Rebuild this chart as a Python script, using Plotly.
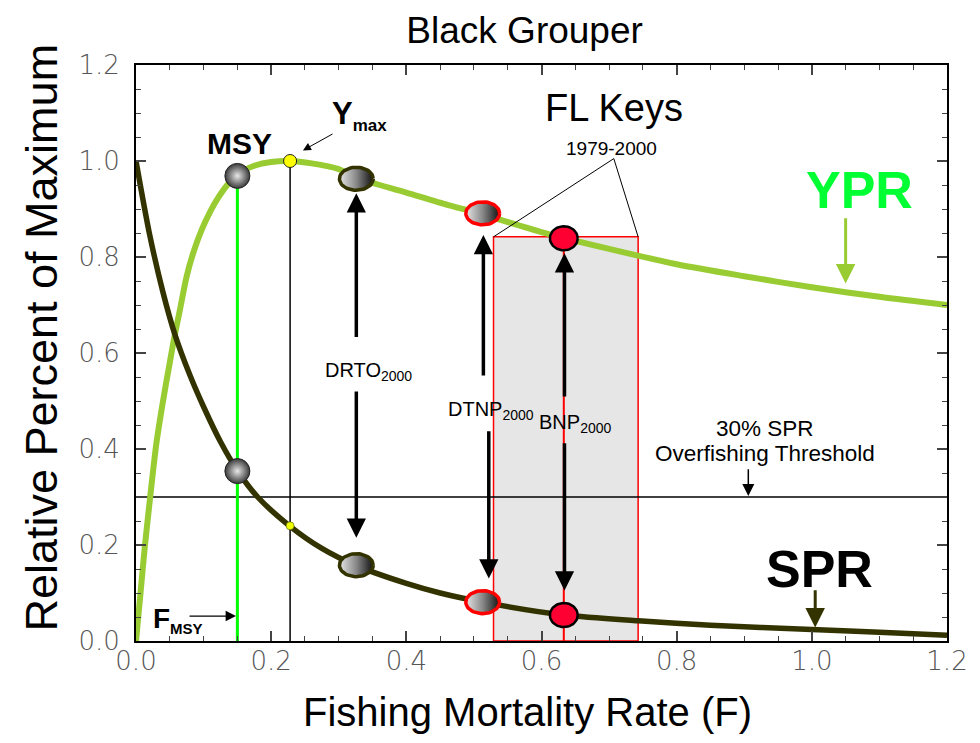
import numpy as np
import plotly.graph_objects as go

# ---------------- data ----------------
F_YPR = [0.0, 0.007, 0.013, 0.021, 0.03, 0.04, 0.05, 0.057, 0.065, 0.075, 0.085, 0.097,
         0.11, 0.12, 0.135, 0.15, 0.175, 0.2, 0.228, 0.26, 0.3, 0.326, 0.4, 0.462, 0.5,
         0.6, 0.7, 0.8, 0.9, 1.0, 1.1, 1.2]
YPR = [0.0, 0.105, 0.196, 0.30, 0.41, 0.50, 0.58, 0.635, 0.69, 0.76, 0.81, 0.856,
       0.895, 0.92, 0.95, 0.972, 0.99, 0.998, 1.0, 0.995, 0.983, 0.965, 0.934, 0.908, 0.894,
       0.852, 0.817, 0.785, 0.76, 0.737, 0.717, 0.70]

F_SPR = [0.0, 0.02, 0.04, 0.057, 0.08, 0.1, 0.125, 0.15, 0.18, 0.228, 0.275, 0.326,
         0.4, 0.45, 0.513, 0.634, 0.743, 0.85, 1.0, 1.1, 1.2]
SPR = [1.0, 0.848, 0.726, 0.641, 0.553, 0.488, 0.415, 0.355, 0.30, 0.239, 0.193, 0.157,
       0.12, 0.10, 0.081, 0.054, 0.042, 0.033, 0.024, 0.018, 0.012]

MSY_F, MSY_YPR, MSY_SPR = 0.15, 0.969, 0.354
YMAX_F, YMAX_YPR, YMAX_SPR = 0.228, 1.0, 0.24

SITES = ["DRTO", "DTNP", "BNP"]
SITE_F = [0.326, 0.513, 0.633]
SITE_YPR = [0.963, 0.891, 0.839]
SITE_SPR = [0.158, 0.081, 0.054]

KEYS_F = [0.529, 0.743]          # FL Keys 1979-2000 range
KEYS_TOP = 0.842
SPR_THRESHOLD = 0.3

X_TICKS = [0.0, 0.2, 0.4, 0.6, 0.8, 1.0, 1.2]
Y_TICKS = [0.0, 0.2, 0.4, 0.6, 0.8, 1.0, 1.2]
TICK_TEXT = ["0.0", "0.2", "0.4", "0.6", "0.8", "1.0", "1.2"]

# ---------------- layout constants ----------------
W, H = 980, 743
ML, MR, MT, MB = 136, 28, 65, 102
PX_X = (W - ML - MR) / 1.2   # pixels per unit on x
PX_Y = (H - MT - MB) / 1.2   # pixels per unit on y

FONT = "Liberation Sans, Arial, sans-serif"
YPR_COLOR = "#99cc33"
SPR_COLOR = "#333300"


def ellipse(cx, cy, wpx, hpx, n=60):
    t = np.linspace(0, 2 * np.pi, n)
    return (cx + (wpx / 2) / PX_X * np.cos(t)).tolist(), (cy + (hpx / 2) / PX_Y * np.sin(t)).tolist()


fig = go.Figure()

# curves
fig.add_trace(go.Scatter(x=F_YPR, y=YPR, mode="lines", line=dict(color=YPR_COLOR, width=6, shape="spline", smoothing=0.8),
                         hoverinfo="skip", showlegend=False))
fig.add_trace(go.Scatter(x=F_SPR, y=SPR, mode="lines", line=dict(color=SPR_COLOR, width=5.5, shape="spline", smoothing=0.8),
                         hoverinfo="skip", showlegend=False))

# MSY markers
fig.add_trace(go.Scatter(x=[MSY_F, MSY_F], y=[MSY_YPR, MSY_SPR], mode="markers",
                         marker=dict(size=25, color="#3a3a3a", line=dict(color="#222", width=1),
                                     gradient=dict(type="radial", color="#e8e8e8")),
                         hoverinfo="skip", showlegend=False))
# Ymax markers
fig.add_trace(go.Scatter(x=[YMAX_F], y=[YMAX_YPR], mode="markers",
                         marker=dict(size=13, color="#ffff00", line=dict(color="#222", width=1)),
                         hoverinfo="skip", showlegend=False))
fig.add_trace(go.Scatter(x=[YMAX_F], y=[YMAX_SPR], mode="markers",
                         marker=dict(size=8, color="#eeff00", line=dict(color="#333300", width=0.5)),
                         hoverinfo="skip", showlegend=False))

# site ellipses
grad = dict(type="horizontal", colorscale=[[0, "#e6e6e6"], [0.5, "#888888"], [1, "#111111"]])
# DRTO (olive outline, gradient)
for yv in [SITE_YPR[0], SITE_SPR[0]]:
    ex, ey = ellipse(SITE_F[0], yv, 34, 23)
    fig.add_trace(go.Scatter(x=ex, y=ey, mode="lines", fill="toself", fillgradient=grad,
                             line=dict(color=SPR_COLOR, width=3.5), hoverinfo="skip", showlegend=False))
# DTNP (red outline, gradient)
for yv in [SITE_YPR[1], SITE_SPR[1]]:
    ex, ey = ellipse(SITE_F[1], yv, 34, 23)
    fig.add_trace(go.Scatter(x=ex, y=ey, mode="lines", fill="toself", fillgradient=grad,
                             line=dict(color="#ff0000", width=3.5), hoverinfo="skip", showlegend=False))
# BNP (red fill, black outline)
for yv in [SITE_YPR[2], SITE_SPR[2]]:
    ex, ey = ellipse(SITE_F[2], yv, 28, 24)
    fig.add_trace(go.Scatter(x=ex, y=ey, mode="lines", fill="toself", fillcolor="#ff0033",
                             line=dict(color="#000000", width=2.5), hoverinfo="skip", showlegend=False))

# ---------------- shapes ----------------
shapes = [
    dict(type="rect", xref="x", yref="y", x0=KEYS_F[0], x1=KEYS_F[1], y0=0, y1=KEYS_TOP,
         fillcolor="#e6e6e6", line=dict(color="#ff0000", width=1.5), layer="below"),
    dict(type="line", xref="x", yref="y", x0=SITE_F[2], x1=SITE_F[2], y0=0, y1=KEYS_TOP,
         line=dict(color="#ff0000", width=2), layer="below"),
    dict(type="line", xref="x", yref="y", x0=0, x1=1.2, y0=SPR_THRESHOLD, y1=SPR_THRESHOLD,
         line=dict(color="#000000", width=1.5), layer="below"),
    dict(type="line", xref="x", yref="y", x0=MSY_F, x1=MSY_F, y0=0, y1=MSY_YPR,
         line=dict(color="#00ff00", width=3), layer="below"),
    dict(type="line", xref="x", yref="y", x0=YMAX_F, x1=YMAX_F, y0=0, y1=YMAX_YPR,
         line=dict(color="#000000", width=1.5), layer="below"),
    dict(type="line", xref="x", yref="y", x0=0.707, y0=1.005, x1=KEYS_F[0], y1=KEYS_TOP,
         line=dict(color="#000000", width=1)),
    dict(type="line", xref="x", yref="y", x0=0.707, y0=1.005, x1=KEYS_F[1], y1=KEYS_TOP,
         line=dict(color="#000000", width=1)),
]


def arrow(x0, y0, x1, y1, color="black", width=3.5, size=1.1, head=2):
    return dict(x=x1, y=y1, ax=x0, ay=y0, xref="x", yref="y", axref="x", ayref="y", text="",
                showarrow=True, arrowhead=head, arrowsize=size, arrowwidth=width, arrowcolor=color)


def label(x, y, text, size, color="black", xanchor="center", yanchor="middle"):
    return dict(x=x, y=y, xref="x", yref="y", text=text, showarrow=False,
                font=dict(family=FONT, size=size, color=color), xanchor=xanchor, yanchor=yanchor)


annotations = [
    # big double arrows
    arrow(SITE_F[0], 0.63, SITE_F[0], 0.933), arrow(SITE_F[0], 0.523, SITE_F[0], 0.215),
    arrow(0.514, 0.55, 0.514, 0.846), arrow(0.522, 0.44, 0.522, 0.13),
    arrow(0.634, 0.506, 0.634, 0.808), arrow(0.634, 0.415, 0.634, 0.105),
    # YPR / SPR pointers
    arrow(1.05, 0.884, 1.05, 0.745, color=YPR_COLOR, width=3, size=1.3),
    arrow(1.005, 0.109, 1.005, 0.028, color=SPR_COLOR, width=3, size=1.3),
    # small arrows
    arrow(0.906, 0.361, 0.906, 0.302, width=1.5, size=1.6),
    arrow(0.077, 0.052, 0.148, 0.052, width=1.3, size=1.6),
    arrow(0.293, 1.058, 0.247, 1.022, width=1.0, size=1.6),
    # labels
    label(0.344, 0.561, "DRTO<sub>2000</sub>", 20),
    label(0.526, 0.481, "DTNP<sub>2000</sub>", 20),
    label(0.650, 0.453, "BNP<sub>2000</sub>", 20),
    label(0.931, 0.442, "30% SPR", 22.5),
    label(0.931, 0.390, "Overfishing Threshold", 22.5),
    label(1.07, 0.94, "<b>YPR</b>", 52, color="#00ff33"),
    label(1.012, 0.151, "<b>SPR</b>", 52),
    label(0.708, 1.11, "FL Keys", 38),
    label(0.704, 1.026, "1979-2000", 19),
    label(0.153, 1.037, "<b>MSY</b>", 30),
    label(0.287, 1.095, "<b>Y</b><sub><b><span style='font-size:17px'>max</span></b></sub>", 31, xanchor="left"),
    label(0.022, 0.044, "<b>F</b><sub><b><span style='font-size:15px'>MSY</span></b></sub>", 28, xanchor="left"),
    # titles
    dict(x=(530 - ML) / (W - ML - MR), y=(H - MB - 712) / (H - MT - MB), xref="paper", yref="paper",
         text="Fishing Mortality Rate (F)", showarrow=False, xanchor="center", yanchor="middle",
         font=dict(family=FONT, size=40, color="black")),
    dict(x=(40 - ML) / (W - ML - MR), y=(H - MB - 338) / (H - MT - MB), xref="paper", yref="paper",
         text="Relative Percent of Maximum", showarrow=False, xanchor="center", yanchor="middle",
         textangle=-90, font=dict(family=FONT, size=45, color="black")),
]

axis_common = dict(range=[0, 1.2], showgrid=False, zeroline=False, showline=True, linecolor="black",
                   linewidth=2, mirror="ticks", ticks="inside", ticklen=10, tickwidth=1.5, tickcolor="#444",
                   minor=dict(dtick=0.05, ticks="inside", ticklen=5, tickwidth=1.2, tickcolor="#444"),
                   tickfont=dict(family="DejaVu Sans", size=26, color="#555", weight=200))

fig.update_layout(
    width=W, height=H, margin=dict(l=ML, r=MR, t=MT, b=MB),
    paper_bgcolor="white", plot_bgcolor="white",
    title=dict(text="Black Grouper", x=(527 - ML) / (W - ML - MR), xref="paper", xanchor="center",
               y=1 - 30 / H, yref="container", yanchor="middle",
               font=dict(family=FONT, size=37, color="black")),
    xaxis=dict(**axis_common, tickvals=X_TICKS, ticktext=TICK_TEXT, ticklabelstandoff=-4),
    yaxis=dict(**axis_common, tickvals=Y_TICKS, ticktext=TICK_TEXT, ticklabelstandoff=9),
    shapes=shapes, annotations=annotations, showlegend=False,
)

fig.write_html("out.html", config={"displayModeBar": False},
               post_script="document.body.style.margin='0';document.body.style.overflow='hidden';")
